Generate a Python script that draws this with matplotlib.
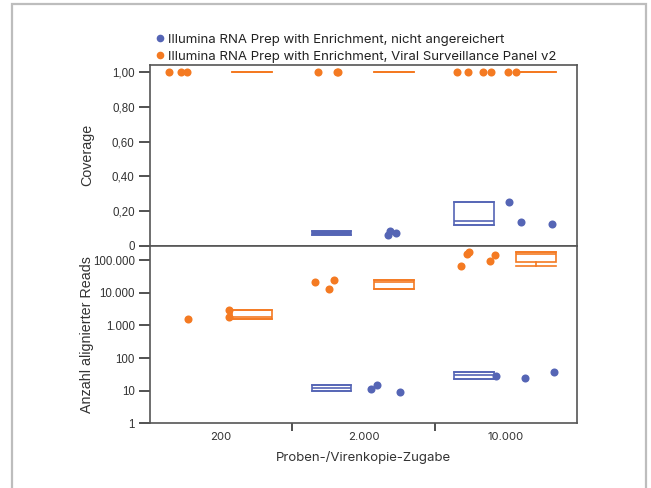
import numpy as np
import matplotlib
matplotlib.use('Agg')
import matplotlib.pyplot as plt
from matplotlib.lines import Line2D
from matplotlib.patches import Rectangle
from matplotlib.ticker import FixedLocator, FixedFormatter

BLUE = '#5565b5'
ORANGE = '#f47a22'

gruppen = ['200', '2.000', '10.000']

# Coverage, angereichert (Viral Surveillance Panel v2)
cov_vsp = [[1.0, 1.0, 1.0],
           [1.0, 1.0, 1.0],
           [1.0, 1.0, 1.0, 1.0, 1.0, 1.0]]
cov_vsp_jitter = [[-0.367, -0.282, -0.240],
                  [-0.320, -0.186, -0.179],
                  [-0.343, -0.266, -0.160, -0.104, 0.015, 0.071]]
cov_vsp_box = [(1.0, 1.0, 1.0), (1.0, 1.0, 1.0), (1.0, 1.0, 1.0)]  # q1, median, q3

# Coverage, nicht angereichert
cov_ohne = [[], [0.064, 0.087, 0.075], [0.254, 0.139, 0.127]]
cov_ohne_jitter = [[], [0.172, 0.186, 0.228], [0.022, 0.107, 0.325]]
cov_ohne_box = [None, (0.064, 0.075, 0.087), (0.121, 0.145, 0.254)]

# Anzahl alignierter Reads, angereichert
reads_vsp = [[1550, 3000, 1850],
             [21800, 13300, 25000],
             [67000, 151000, 183000, 93000, 142000]]
reads_vsp_jitter = [[-0.233, 0.055, 0.055],
                    [-0.341, -0.243, -0.207],
                    [-0.315, -0.273, -0.259, -0.111, -0.076]]
reads_vsp_box = [(1550, 1850, 3000), (13500, 21800, 25000), (87000, 151000, 179000)]
reads_vsp_whislo = [1550, 13500, 65600]

# Anzahl alignierter Reads, nicht angereichert
reads_ohne = [[], [11.4, 15.0, 9.2], [28.3, 25.2, 36.6]]
reads_ohne_jitter = [[], [0.053, 0.095, 0.256], [-0.069, 0.135, 0.339]]
reads_ohne_box = [None, (9.7, 11.9, 15.0), (23.5, 29.7, 36.6)]

BOX_OFF_VSP = 0.215
BOX_OFF_OHNE = -0.225
BOX_W = 0.28

fig = plt.figure(figsize=(6.51, 4.88), dpi=100)
ax1 = fig.add_axes([0.2304, 0.4965, 0.8863 - 0.2304, 0.8668 - 0.4965])
ax2 = fig.add_axes([0.2304, 0.1326, 0.8863 - 0.2304, 0.4965 - 0.1326])

fig.patches.append(Rectangle((12 / 651, -0.02), (646 - 12) / 651, 1.02 - 4 / 488,
                             transform=fig.transFigure, fill=False,
                             edgecolor='#bdbdbd', lw=1.6, zorder=0))


def boxen(ax, stats, offset, color, whislo=None, gefuellt=False):
    st = []
    pos = []
    for i, s in enumerate(stats):
        if s is None:
            continue
        q1, med, q3 = s
        lo = q1 if whislo is None else whislo[i]
        st.append(dict(q1=q1, med=med, q3=q3, whislo=lo, whishi=q3, fliers=[]))
        pos.append(i + offset)
    bp = ax.bxp(st, positions=pos, widths=BOX_W, showfliers=False,
                capwidths=BOX_W, patch_artist=True,
                boxprops=dict(edgecolor=color, facecolor='none', lw=1.2),
                medianprops=dict(color=color, lw=1.2),
                whiskerprops=dict(color=color, lw=1.2),
                capprops=dict(color=color, lw=1.2),
                manage_ticks=False)
    if gefuellt:
        for b in bp['boxes']:
            # sehr flache Box: im Original als Balken sichtbar
            y = b.get_path().vertices[:, 1]
            hoehe = ax.transData.transform((0, y.max()))[1] - ax.transData.transform((0, y.min()))[1]
            if hoehe < 6:
                b.set_facecolor(color)
    return bp


def punkte(ax, werte, jitter, color):
    for i, (v, j) in enumerate(zip(werte, jitter)):
        if not v:
            continue
        ax.plot(i + np.array(j), v, 'o', ms=5.8, color=color, mec='none', zorder=3)


YFONT = 'Liberation Sans'
XFONT = 'Inter'

ax1.set_xlim(-0.5, 2.5)
ax2.set_xlim(-0.5, 2.5)
ax1.set_ylim(0, 1.042)
ax2.set_yscale('log')
ax2.set_ylim(1, 2.79e5)

boxen(ax1, cov_vsp_box, BOX_OFF_VSP, ORANGE)
boxen(ax1, cov_ohne_box, BOX_OFF_OHNE, BLUE, gefuellt=True)
punkte(ax1, cov_vsp, cov_vsp_jitter, ORANGE)
punkte(ax1, cov_ohne, cov_ohne_jitter, BLUE)

boxen(ax2, reads_vsp_box, BOX_OFF_VSP, ORANGE, reads_vsp_whislo)
boxen(ax2, reads_ohne_box, BOX_OFF_OHNE, BLUE)
punkte(ax2, reads_vsp, reads_vsp_jitter, ORANGE)
punkte(ax2, reads_ohne, reads_ohne_jitter, BLUE)

for ax in (ax1, ax2):
    for sp in ax.spines.values():
        sp.set_color('#555555')
        sp.set_linewidth(1.2)
    ax.tick_params(axis='y', length=8, width=1.1, color='#222222', pad=3,
                   labelsize=8.3, labelcolor='#333333')

cov_ticks = [0, 0.2, 0.4, 0.6, 0.8, 1.0]
ax1.set_yticks(cov_ticks)
ax1.set_yticklabels(['0', '0,20', '0,40', '0,60', '0,80', '1,00'], family=YFONT)
ax1.set_xticks([])
ax1.set_ylabel('Coverage', family=YFONT, fontsize=10.3, color='#333333')

read_ticks = [1, 10, 100, 1000, 10000, 100000]
ax2.yaxis.set_major_locator(FixedLocator(read_ticks))
ax2.yaxis.set_major_formatter(FixedFormatter(['1', '10', '100', '1.000', '10.000', '100.000']))
ax2.yaxis.set_minor_locator(FixedLocator([]))
for lab in ax2.get_yticklabels():
    lab.set_family(YFONT)
ax2.set_ylabel('Anzahl alignierter Reads', family=YFONT, fontsize=10.3, color='#333333')

# beide y-Beschriftungen auf gleicher Höhe wie im Original
ax1.yaxis.set_label_coords(-0.130, 0.5)
ax2.yaxis.set_label_coords(-0.130, 0.5)

ax2.set_xticks([0.5, 1.5])
ax2.set_xticklabels([])
ax2.set_xticks(range(len(gruppen)), minor=True)
ax2.set_xticklabels(gruppen, minor=True, family=XFONT, fontsize=8.2, color='#333333')
ax2.tick_params(axis='x', which='major', length=6, width=1.1, color='#222222')
ax2.tick_params(axis='x', which='minor', length=0, pad=6)
ax2.set_xlabel('Proben-/Virenkopie-Zugabe', family=XFONT, fontsize=9.5, color='#333333',
               labelpad=7)

handles = [Line2D([], [], ls='none', marker='o', ms=5.5, color=BLUE, mec='none'),
           Line2D([], [], ls='none', marker='o', ms=5.5, color=ORANGE, mec='none')]
fig.legend(handles,
           ['Illumina RNA Prep with Enrichment, nicht angereichert',
            'Illumina RNA Prep with Enrichment, Viral Surveillance Panel v2'],
           loc='upper left', bbox_to_anchor=(149 / 651, 1 - 27 / 488), frameon=False,
           handlelength=0.6, handletextpad=0.35, labelspacing=0.38, borderpad=0,
           prop=dict(family=XFONT, size=9.5), labelcolor='#222222')

fig.savefig('out.png', dpi=100)
